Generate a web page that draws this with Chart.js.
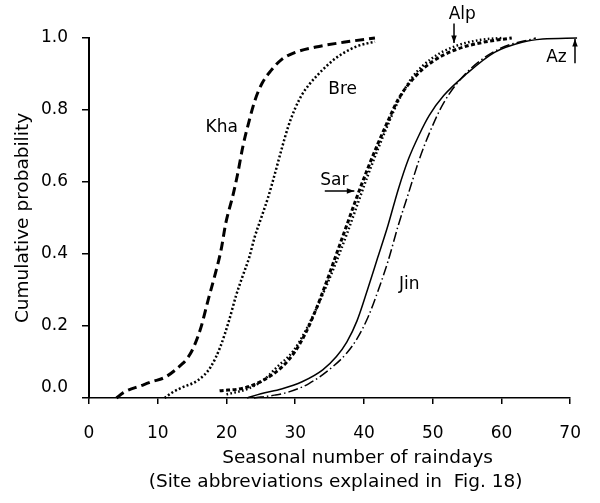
<!DOCTYPE html>
<html>
<head>
<meta charset="utf-8">
<script src="https://cdn.jsdelivr.net/npm/chart.js@4/dist/chart.umd.min.js"></script>
<style>
  html, body { margin: 0; padding: 0; background: #fff; }
  #wrap { width: 600px; height: 503px; }
</style>
</head>
<body>
<div id="wrap"><canvas id="rain-cdf"></canvas></div>
<script>
// seasonal number of raindays vs cumulative probability
var khaDays = [4, 5, 7.7, 9.1, 11.1, 13.4, 14.3, 15.2, 16.3, 17.3, 18.3, 19.2, 19.9, 20.9, 21.6, 22.4, 23.3, 24.2, 25.2, 26.5, 28, 30, 33, 37, 41.6];
var khaProb = [0, 0.015, 0.035, 0.045, 0.058, 0.092, 0.11, 0.14, 0.197, 0.27, 0.34, 0.41, 0.486, 0.56, 0.62, 0.7, 0.77, 0.83, 0.875, 0.91, 0.94, 0.96, 0.975, 0.988, 1.0];

var breDays = [11, 12, 13.4, 15.9, 17.7, 19.1, 20.4, 21.4, 22.3, 23.3, 24.1, 25.1, 26.1, 27, 28, 29, 30, 31, 32, 33, 35, 37, 39, 41.6];
var breProb = [0, 0.014, 0.028, 0.05, 0.086, 0.142, 0.217, 0.285, 0.336, 0.39, 0.447, 0.503, 0.56, 0.62, 0.69, 0.755, 0.805, 0.843, 0.87, 0.892, 0.93, 0.958, 0.977, 0.99];

var sarDays = [19, 22.6, 25.4, 28, 30, 31.5, 33, 34.5, 36, 37.5, 39, 40.5, 42, 43.5, 45, 47.3, 50, 53.4, 57.3, 61.5];
var sarProb = [0.02, 0.028, 0.05, 0.085, 0.13, 0.18, 0.245, 0.32, 0.4, 0.48, 0.56, 0.635, 0.705, 0.77, 0.83, 0.89, 0.935, 0.968, 0.988, 1.0];

var alpDays = [20, 23, 25.4, 27.3, 29.7, 31.6, 33, 34.5, 36, 37.5, 39, 40.5, 42, 43.5, 45, 47, 50, 53.4, 57, 60];
var alpProb = [0.01, 0.025, 0.05, 0.085, 0.13, 0.19, 0.245, 0.31, 0.38, 0.455, 0.535, 0.615, 0.69, 0.76, 0.825, 0.89, 0.945, 0.978, 0.995, 1.0];

var azDays = [23, 25, 28, 31, 34, 36, 37.5, 39, 40.5, 42, 43.5, 45, 46.5, 48, 49.5, 51.6, 54.9, 59, 63, 66, 71];
var azProb = [0, 0.012, 0.025, 0.045, 0.078, 0.115, 0.155, 0.215, 0.3, 0.39, 0.48, 0.58, 0.665, 0.73, 0.785, 0.84, 0.9, 0.96, 0.988, 0.997, 1.0];

var jinDays = [24, 27, 29.1, 32, 35.4, 37.5, 39, 40.6, 42, 43.5, 45, 46.5, 48, 49.5, 51.6, 55, 59.7, 65];
var jinProb = [0, 0.008, 0.017, 0.04, 0.086, 0.125, 0.165, 0.225, 0.295, 0.38, 0.48, 0.57, 0.66, 0.735, 0.82, 0.905, 0.97, 1.0];

var xTicks = [0, 10, 20, 30, 40, 50, 60, 70];
var yTicks = [0, 0.2, 0.4, 0.6, 0.8, 1.0];

var xTitle = ["Seasonal number of raindays", "(Site abbreviations explained in  Fig. 18)"];
var yTitle = "Cumulative probability";

// site labels, placed in data units
var siteLabels = [
    { text: "Kha", x: 19.3, y: 0.75 },
    { text: "Bre", x: 36.9, y: 0.856 },
    { text: "Sar", x: 35.7, y: 0.603 },
    { text: "Alp", x: 54.3, y: 1.064 },
    { text: "Az", x: 68, y: 0.947 },
    { text: "Jin", x: 46.6, y: 0.314 }
];
var arrows = [
    { x0: 34.3, y0: 0.575, x1: 38.6, y1: 0.575 },  // Sar
    { x0: 53.1, y0: 1.04, x1: 53.1, y1: 0.986 },   // Alp
    { x0: 70.7, y0: 0.93, x1: 70.7, y1: 0.997 }    // Az
];

function pts(days, prob) {
    return days.map(function (d, i) { return { x: d, y: prob[i] }; });
}

function series(label, days, prob, dash, width) {
    return {
        label: label,
        data: pts(days, prob),
        borderColor: "#000",
        borderWidth: width,
        borderDash: dash,
        pointRadius: 0,
        fill: false,
        cubicInterpolationMode: "monotone",
        clip: false
    };
}

var FONT = "'DejaVu Sans', sans-serif";

var labelPlugin = {
    id: "siteLabels",
    afterDatasetsDraw: function (chart) {
        var c = chart.ctx, xs = chart.scales.x, ys = chart.scales.y;
        var area = chart.chartArea;
        var mid = (area.left + area.right) / 2;
        c.save();
        c.fillStyle = "#000";
        c.strokeStyle = "#000";
        c.font = "17px " + FONT;
        c.textAlign = "center";
        c.textBaseline = "middle";
        siteLabels.forEach(function (l) {
            c.fillText(l.text, xs.getPixelForValue(l.x), ys.getPixelForValue(l.y));
        });
        // x axis title, two lines (first one sits a bit to the right in the original)
        c.font = "18.5px " + FONT;
        c.fillText(xTitle[0], mid + 28, area.bottom + 60);
        c.fillText(xTitle[1], mid + 6, area.bottom + 84);

        c.lineWidth = 1.5;
        arrows.forEach(function (a) {
            var x0 = xs.getPixelForValue(a.x0), y0 = ys.getPixelForValue(a.y0);
            var x1 = xs.getPixelForValue(a.x1), y1 = ys.getPixelForValue(a.y1);
            var ang = Math.atan2(y1 - y0, x1 - x0);
            c.beginPath();
            c.moveTo(x0, y0);
            c.lineTo(x1, y1);
            c.stroke();
            c.beginPath();
            c.moveTo(x1, y1);
            c.lineTo(x1 - 8 * Math.cos(ang - 0.35), y1 - 8 * Math.sin(ang - 0.35));
            c.lineTo(x1 - 8 * Math.cos(ang + 0.35), y1 - 8 * Math.sin(ang + 0.35));
            c.closePath();
            c.fill();
        });
        c.restore();
    }
};

var ctx = document.getElementById("rain-cdf");
var myChart = new Chart(ctx, {
    type: "line",
    data: {
        datasets: [
            series("Kha", khaDays, khaProb, [9, 5], 3),
            series("Bre", breDays, breProb, [2, 2.2], 2.5),
            series("Sar", sarDays, sarProb, [4, 2.5], 3),
            series("Alp", alpDays, alpProb, [1.6, 2.4], 2.5),
            series("Az", azDays, azProb, [], 1.5),
            series("Jin", jinDays, jinProb, [10, 3, 1.5, 3], 1.5)
        ]
    },
    options: {
        responsive: true,
        maintainAspectRatio: false,
        animation: false,
        layout: { padding: { top: 38, right: 21, bottom: 0, left: 0 } },
        plugins: {
            legend: { display: false },
            tooltip: { enabled: false },
            title: { display: false }
        },
        scales: {
            x: {
                type: "linear",
                min: 0,
                max: 70,
                afterBuildTicks: function (s) { s.ticks = xTicks.map(function (v) { return { value: v }; }); },
                afterFit: function (s) { s.height = 105; },
                grid: { drawOnChartArea: false, drawTicks: true, tickLength: 6, color: "#000", lineWidth: 1.5 },
                border: { color: "#000", width: 1.5 },
                ticks: { color: "#000", padding: 19, maxRotation: 0, font: { family: FONT, size: 17 } }
            },
            y: {
                min: 0,
                max: 1,
                afterBuildTicks: function (s) { s.ticks = yTicks.map(function (v) { return { value: v }; }); },
                afterFit: function (s) { s.width = 89; },
                grid: { drawOnChartArea: false, drawTicks: true, tickLength: 7, color: "#000", lineWidth: 1.5 },
                border: { color: "#000", width: 2 },
                ticks: {
                    color: "#000",
                    padding: 14,
                    font: { family: FONT, size: 17 },
                    // the 0.0 label sits raised above the axis in the original
                    callback: function (v) { return v === 0 ? ["0.0", ""] : v.toFixed(1); }
                },
                title: {
                    display: true,
                    text: yTitle,
                    color: "#000",
                    font: { family: FONT, size: 18.5 },
                    padding: { top: 12, bottom: 0 }
                }
            }
        }
    },
    plugins: [labelPlugin]
});
</script>
</body>
</html>
